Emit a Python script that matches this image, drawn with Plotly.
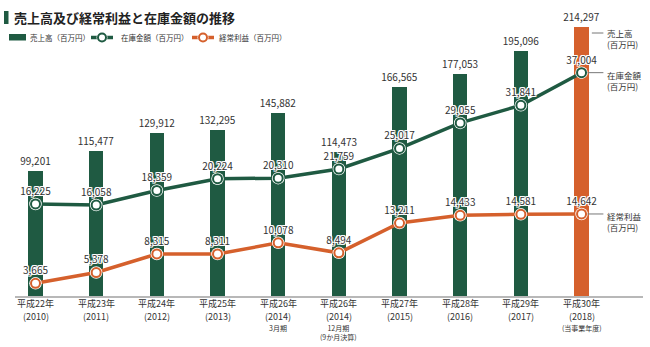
import plotly.graph_objects as go

# ---- data (百万円) ----
years = ["平成22年", "平成23年", "平成24年", "平成25年", "平成26年",
         "平成26年", "平成27年", "平成28年", "平成29年", "平成30年"]
western = ["(2010)", "(2011)", "(2012)", "(2013)", "(2014)",
           "(2014)", "(2015)", "(2016)", "(2017)", "(2018)"]
notes = ["", "", "", "", "3月期", "12月期<br>(9か月決算)", "", "", "", "(当事業年度)"]
sales = [99201, 115477, 129912, 132295, 145882, 114473, 166565, 177053, 195096, 214297]
inventory = [16225, 16058, 18359, 20224, 20310, 21759, 25017, 29055, 31841, 37004]
profit = [3665, 5378, 8315, 8311, 10078, 8494, 13211, 14433, 14581, 14642]

GREEN = "#1f5a42"
ORANGE = "#d5602c"
TEXT = "#333333"
FONT = "Noto Sans CJK JP"
HALO = ("1px 1px 0 #fff, -1px -1px 0 #fff, 1px -1px 0 #fff, -1px 1px 0 #fff, "
        "0 1px 0 #fff, 0 -1px 0 #fff, 1px 0 0 #fff, -1px 0 0 #fff")

W, H = 650, 347
L, R, T, B = 15, 7, 20, 51
PW, PH = W - L - R, H - T - B


def px(x):
    return (x - L) / PW


def py(y):
    return (H - B - y) / PH


x = list(range(len(years)))
fmt = lambda v: f"{v:,}"

fig = go.Figure()

bar_colors = [GREEN] * (len(sales) - 1) + [ORANGE]
fig.add_trace(go.Bar(
    x=x, y=sales, width=0.235, marker=dict(color=bar_colors, line=dict(width=0)),
    text=[fmt(v) for v in sales], textposition="outside", constraintext="none",
    textfont=dict(family=FONT, size=10, color=TEXT), cliponaxis=False,
    yaxis="y", showlegend=False, hoverinfo="skip"))


def line_series(vals, color):
    fig.add_trace(go.Scatter(x=x, y=vals, mode="lines", yaxis="y2",
                             line=dict(color=color, width=3.5),
                             showlegend=False, hoverinfo="skip"))
    fig.add_trace(go.Scatter(x=x, y=vals, mode="markers", yaxis="y2",
                             marker=dict(color="#ffffff", size=12.5),
                             showlegend=False, hoverinfo="skip"))
    fig.add_trace(go.Scatter(x=x, y=vals, mode="markers+text", yaxis="y2",
                             marker=dict(color="#ffffff", size=9,
                                         line=dict(color=color, width=2)),
                             text=[fmt(v) for v in vals], textposition="top center",
                             textfont=dict(family=FONT, size=10, color=TEXT, shadow=HALO),
                             cliponaxis=False, showlegend=False, hoverinfo="skip"))


line_series(inventory, GREEN)
line_series(profit, ORANGE)

annotations = []
shapes = []


def label(xv, yv, text, size, xref="paper", xanchor="center", yanchor="middle",
          align="center", color=TEXT):
    annotations.append(dict(x=xv, y=yv, xref=xref, yref="paper", text=text,
                            xanchor=xanchor, yanchor=yanchor, align=align,
                            showarrow=False, font=dict(family=FONT, size=size, color=color)))


# category labels under the axis
for i in x:
    label(i, py(303.5), years[i], 9, xref="x")
    label(i, py(316), western[i], 9, xref="x")
    if notes[i]:
        label(i, py(321), notes[i], 7, xref="x", yanchor="top")

# title and legend
shapes.append(dict(type="rect", xref="paper", yref="paper",
                   x0=px(4), x1=px(8.5), y0=py(24), y1=py(11),
                   fillcolor=GREEN, line=dict(width=0)))
label(px(12), py(17.5), "<b>売上高及び経常利益と在庫金額の推移</b>", 13,
      xanchor="left", color="#222")

shapes.append(dict(type="rect", xref="paper", yref="paper",
                   x0=px(9), x1=px(26), y0=py(40.5), y1=py(34),
                   fillcolor=GREEN, line=dict(width=0)))
label(px(28), py(37.5), "売上高（百万円）", 7.5, xanchor="left")

for x0, tx, color, text in [(91, 119, GREEN, "在庫金額（百万円）"),
                            (192, 217, ORANGE, "経常利益（百万円）")]:
    shapes.append(dict(type="line", xref="paper", yref="paper",
                       x0=px(x0), x1=px(x0 + 22), y0=py(37.5), y1=py(37.5),
                       line=dict(color=color, width=3.5)))
    shapes.append(dict(type="circle", xref="paper", yref="paper",
                       x0=px(x0 + 5.5), x1=px(x0 + 16.5), y0=py(43), y1=py(32),
                       fillcolor="#ffffff", line=dict(color="#ffffff", width=0)))
    shapes.append(dict(type="circle", xref="paper", yref="paper",
                       x0=px(x0 + 7), x1=px(x0 + 15), y0=py(41.5), y1=py(33.5),
                       fillcolor="#ffffff", line=dict(color=color, width=2)))
    label(px(tx), py(37.5), text, 7.5, xanchor="left")

# series captions at the right end
last = len(x) - 1
shapes.append(dict(type="line", xref="x", yref="paper", x0=last + 0.17, x1=last + 0.36,
                   y0=py(33), y1=py(33), line=dict(color="#777", width=1)))
shapes.append(dict(type="line", xref="x", yref="y2", x0=last + 0.1, x1=last + 0.36,
                   y0=inventory[-1], y1=inventory[-1], line=dict(color="#777", width=1)))
shapes.append(dict(type="line", xref="x", yref="y2", x0=last + 0.1, x1=last + 0.36,
                   y0=profit[-1], y1=profit[-1], line=dict(color="#777", width=1)))
for ypix, text in [(39, "売上高<br>(百万円)"), (80, "在庫金額<br>(百万円)"),
                   (222, "経常利益<br>(百万円)")]:
    label(last + 0.39, py(ypix), text, 8.5, xref="x", xanchor="left", align="left")

fig.update_layout(
    width=W, height=H, margin=dict(l=L, r=R, t=T, b=B),
    paper_bgcolor="#ffffff", plot_bgcolor="#ffffff",
    bargap=0, showlegend=False,
    xaxis=dict(range=[-0.338, 10.013], showgrid=False, zeroline=False,
               showticklabels=False, ticks="", showline=True,
               linecolor="#b8b8b8", linewidth=2, fixedrange=True),
    yaxis=dict(range=[0, 219870], visible=False, fixedrange=True),
    yaxis2=dict(range=[1662, 45340], overlaying="y", visible=False, fixedrange=True),
    annotations=annotations, shapes=shapes,
)

fig.write_html("out.html")
